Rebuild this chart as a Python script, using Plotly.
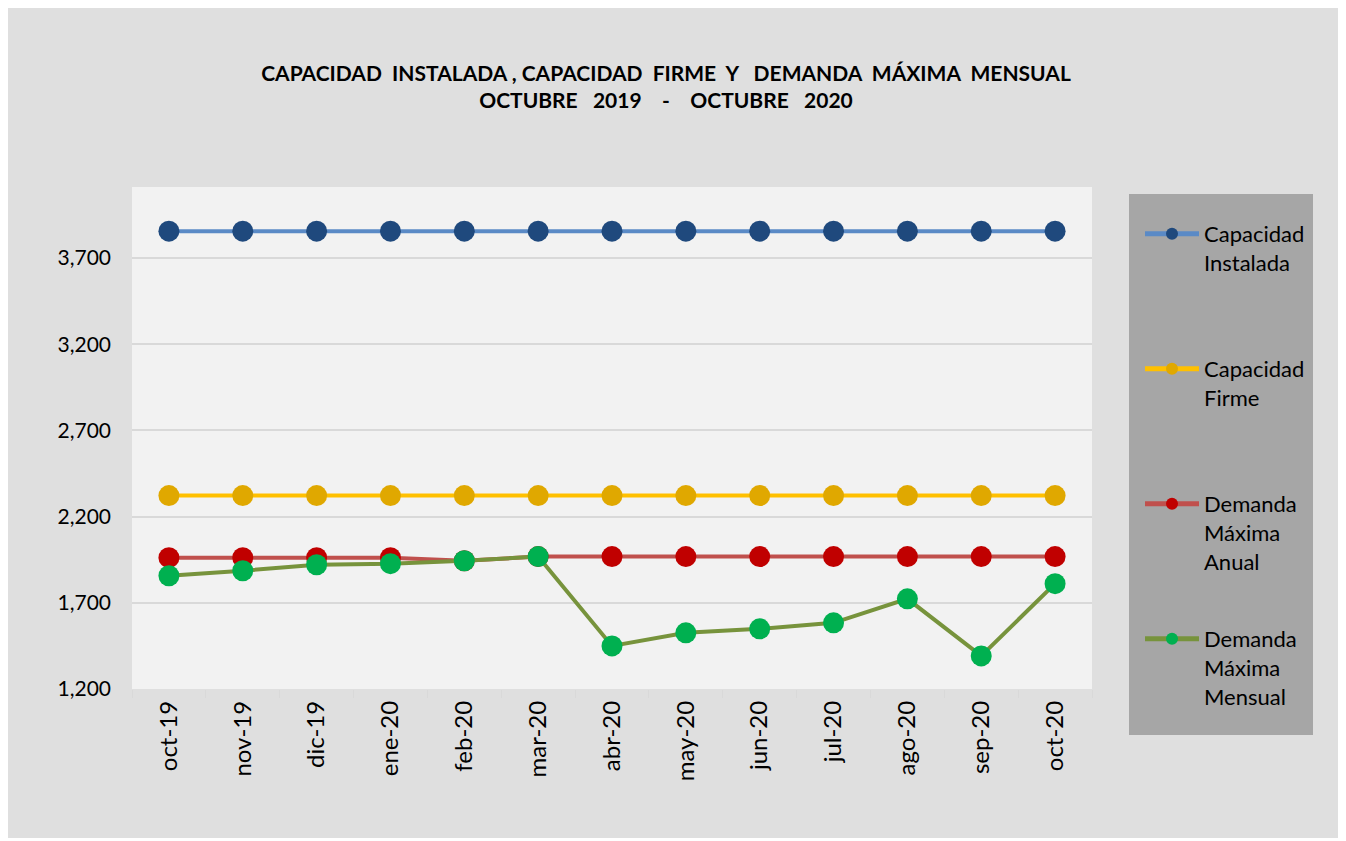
import plotly.graph_objects as go

meses = ["oct-19", "nov-19", "dic-19", "ene-20", "feb-20", "mar-20", "abr-20",
         "may-20", "jun-20", "jul-20", "ago-20", "sep-20", "oct-20"]
cap_instalada = [3856] * 13
cap_firme = [2322] * 13
dem_anual = [1962, 1962, 1962, 1962, 1944, 1968, 1968, 1968, 1968, 1968, 1968, 1968, 1968]
dem_mensual = [1857, 1886, 1921, 1927, 1944, 1968, 1450, 1526, 1549, 1584, 1723, 1392, 1811]
y_ticks = [1200, 1700, 2200, 2700, 3200, 3700]

FONT = "Lato"
OFF = 8  # page body margin
W, H = 1331, 830
# plot area in screen pixels
SL, ST, SR, SB = 132, 187, 1092, 689
L, T = SL - OFF, ST - OFF
R, B = W - (SR - OFF), H - (SB - OFF)
pw, ph = W - L - R, H - T - B

def px_x(sx):
    return (sx - SL) / pw

def px_y(sy):
    return (SB - sy) / ph

series = [
    ("Capacidad<br>Instalada", cap_instalada, "#5a8ac6", "#1f497d", "legend", 233),
    ("Capacidad<br>Firme", cap_firme, "#ffc000", "#e0a800", "legend2", 368),
    ("Demanda<br>Máxima<br>Anual", dem_anual, "#c0504d", "#c00000", "legend3", 503),
    ("Demanda<br>Máxima<br>Mensual", dem_mensual, "#77933c", "#00b050", "legend4", 638),
]

fig = go.Figure()
for name, vals, lc, mc, lg, _ in series:
    fig.add_trace(go.Scatter(
        x=meses, y=vals, name=name, mode="lines+markers",
        line=dict(color=lc, width=4),
        marker=dict(color=mc, size=21),
        legend=lg,
    ))

layout_legends = {}
for name, vals, lc, mc, lg, ytop in series:
    layout_legends[lg] = dict(
        x=px_x(1140), xanchor="left",
        y=px_y(ytop - 20), yanchor="top",
        bgcolor="rgba(0,0,0,0)",
        font=dict(family=FONT, size=22, color="#000000"),
        valign="top", itemsizing="constant", itemwidth=54,
    )

fig.update_layout(
    width=W, height=H,
    margin=dict(l=L, r=R, t=T, b=B),
    paper_bgcolor="#dfdfdf",
    plot_bgcolor="#f2f2f2",
    font=dict(family=FONT, size=20, color="#000000"),
    title=dict(
        text="<b>CAPACIDAD  INSTALADA , CAPACIDAD  FIRME  Y   DEMANDA  MÁXIMA  MENSUAL<br>OCTUBRE   2019    -    OCTUBRE   2020</b>",
        x=(666 - OFF) / W, xref="container", xanchor="center",
        y=1 - (81 - OFF) / H, yref="container", yanchor="middle",
        font=dict(family=FONT, size=21, color="#000000"),
    ),
    showlegend=True,
    **layout_legends,
    xaxis=dict(
        type="category", range=[-0.5, 12.5], tickangle=-90, tickson="boundaries",
        ticks="outside", ticklen=8, tickcolor="#d9d9d9", tickwidth=1,
        ticklabelstandoff=6,
        showgrid=False, showline=False, zeroline=False,
        tickfont=dict(family=FONT, size=24),
    ),
    yaxis=dict(
        range=[1200, 4112], tickvals=y_ticks, tickformat=",",
        showgrid=True, gridcolor="#d9d9d9", gridwidth=2,
        zeroline=False, showline=False, ticks="",
        ticklabelstandoff=20,
        tickfont=dict(family=FONT, size=21),
    ),
    shapes=[
        dict(type="rect", xref="paper", yref="paper", layer="below",
             x0=px_x(1129), x1=px_x(1313), y0=px_y(735), y1=px_y(194),
             fillcolor="#a6a6a6", line=dict(width=0)),
    ],
)

fig.write_html("out.html")
